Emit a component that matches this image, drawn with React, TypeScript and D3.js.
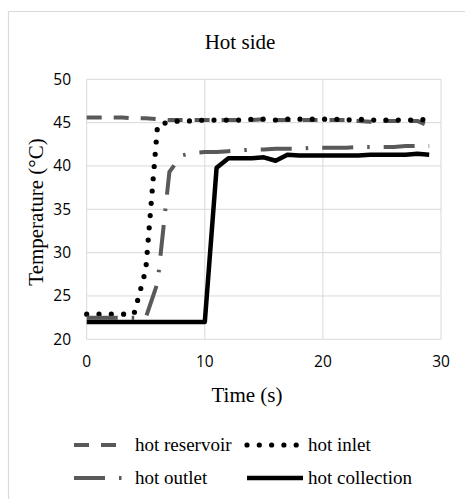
import React from "react";
import * as d3 from "d3";

const timeS: number[] = Array.from({ length: 30 }, (_, i) => i);
const hotReservoir: number[] = [45.6, 45.6, 45.6, 45.6, 45.5, 45.5, 45.4, 45.3, 45.3, 45.3, 45.3, 45.3, 45.3, 45.3, 45.3, 45.4, 45.3, 45.3, 45.3, 45.3, 45.3, 45.3, 45.3, 45.2, 45.1, 45.2, 45.2, 45.2, 45.2, 44.6];
const hotInlet: number[] = [22.9, 22.9, 22.9, 22.9, 22.9, 28.0, 44.7, 45.1, 45.2, 45.2, 45.3, 45.3, 45.3, 45.3, 45.4, 45.4, 45.3, 45.4, 45.4, 45.4, 45.4, 45.4, 45.3, 45.4, 45.3, 45.3, 45.3, 45.3, 45.3, 45.4];
const hotOutlet: number[] = [22.5, 22.5, 22.5, 22.5, 22.5, 22.5, 26.5, 39.3, 41.2, 41.5, 41.6, 41.6, 41.7, 41.8, 41.9, 41.9, 42.0, 42.0, 42.0, 42.1, 42.1, 42.1, 42.1, 42.2, 42.2, 42.2, 42.2, 42.3, 42.3, 42.3];
const hotCollection: number[] = [22.0, 22.0, 22.0, 22.0, 22.0, 22.0, 22.0, 22.0, 22.0, 22.0, 22.0, 39.8, 40.9, 40.9, 40.9, 41.0, 40.6, 41.3, 41.2, 41.2, 41.2, 41.2, 41.2, 41.2, 41.3, 41.3, 41.3, 41.3, 41.4, 41.3];
const xTicks: number[] = [0, 10, 20, 30];
const yTicks: number[] = [20, 25, 30, 35, 40, 45, 50];
const seriesNames: string[] = ["hot reservoir", "hot inlet", "hot outlet", "hot collection"];

const W = 465;
const H = 499;
const SERIF = "'Liberation Serif', 'Times New Roman', serif";
const SANS = "'Open Sans', 'Liberation Sans', sans-serif";
const GRID = "#d9d9d9";

const styles = [
  { color: "#595959", width: 4, dash: "15 12", cap: "butt" },
  { color: "#000000", width: 5.2, dash: "0 12.3", cap: "round" },
  { color: "#595959", width: 4, dash: "31 14 2.5 14", cap: "butt" },
  { color: "#000000", width: 4.5, dash: "", cap: "butt" },
];

export default function App() {
  const x = d3.scaleLinear().domain([0, 30]).range([86.7, 441]);
  const y = d3.scaleLinear().domain([20, 50]).range([339.3, 79.3]);
  const series = [hotReservoir, hotInlet, hotOutlet, hotCollection];
  const line = d3
    .line<number>()
    .x((_, i) => x(timeS[i]))
    .y((d) => y(d));

  const legendPos = [
    { x0: 74, x1: 120, tx: 135, y: 445 },
    { x0: 247, x1: 303, tx: 308, y: 445 },
    { x0: 74, x1: 125, tx: 135, y: 478 },
    { x0: 247, x1: 303, tx: 308, y: 478 },
  ];

  return (
    <svg
      width={W}
      height={H}
      style={{ position: "absolute", left: 0, top: 0, background: "#fff" }}
    >
      <rect x={0} y={0} width={W} height={H} fill="#fff" />
      <line x1={8.5} y1={11.5} x2={W} y2={11.5} stroke={GRID} strokeWidth={1.2} />
      <line x1={8.5} y1={11.5} x2={8.5} y2={H} stroke={GRID} strokeWidth={1.2} />

      <text x={240} y={49} textAnchor="middle" fontFamily={SERIF} fontSize={21} fill="#000">
        Hot side
      </text>

      {yTicks.map((t) => (
        <line key={"gy" + t} x1={x(0)} x2={x(30)} y1={y(t)} y2={y(t)} stroke={GRID} strokeWidth={1} />
      ))}
      {xTicks.map((t) => (
        <line key={"gx" + t} x1={x(t)} x2={x(t)} y1={y(20)} y2={y(50)} stroke={GRID} strokeWidth={1} />
      ))}

      {yTicks.map((t) => (
        <text key={"ty" + t} x={71} y={y(t)} dy="0.35em" textAnchor="end" fontFamily={SANS} fontSize={15.5} fill="#000">
          {t}
        </text>
      ))}
      {xTicks.map((t) => (
        <text key={"tx" + t} x={x(t)} y={362} dy="0.35em" textAnchor="middle" fontFamily={SANS} fontSize={15.5} fill="#000">
          {t}
        </text>
      ))}

      <text x={247} y={402} textAnchor="middle" fontFamily={SERIF} fontSize={21} fill="#000">
        Time (s)
      </text>
      <text
        transform="translate(43,212) rotate(-90)"
        textAnchor="middle"
        fontFamily={SERIF}
        fontSize={21}
        fill="#000"
      >
        Temperature (°C)
      </text>

      {series.map((s, i) => (
        <path
          key={"s" + i}
          d={line(s) || ""}
          fill="none"
          stroke={styles[i].color}
          strokeWidth={styles[i].width}
          strokeDasharray={styles[i].dash || undefined}
          strokeLinecap={styles[i].cap as any}
          strokeLinejoin="round"
        />
      ))}

      {seriesNames.map((name, i) => {
        const p = legendPos[i];
        const st = styles[i];
        return (
          <g key={"lg" + i}>
            <line
              x1={p.x0}
              x2={p.x1}
              y1={p.y}
              y2={p.y}
              stroke={st.color}
              strokeWidth={st.width}
              strokeDasharray={st.dash || undefined}
              strokeLinecap={st.cap as any}
            />
            <text x={p.tx} y={p.y} dy="0.33em" fontFamily={SERIF} fontSize={19} fill="#000">
              {name}
            </text>
          </g>
        );
      })}
    </svg>
  );
}
